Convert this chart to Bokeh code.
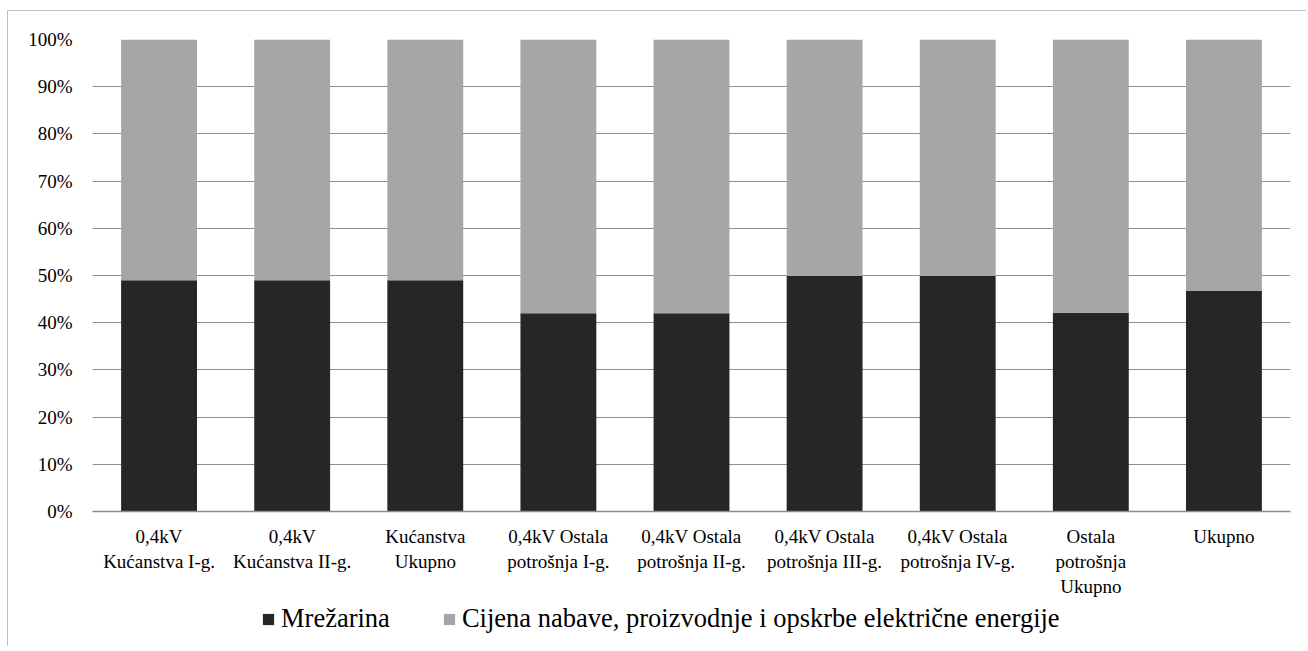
from bokeh.plotting import figure
from bokeh.layouts import column
from bokeh.models import ColumnDataSource, Legend, LegendItem, NumeralTickFormatter, FixedTicker, Range1d, FactorRange
from bokeh.embed import file_html
from bokeh.resources import INLINE

categories = [
    "0,4kV\nKućanstva I-g.",
    "0,4kV\nKućanstva II-g.",
    "Kućanstva\nUkupno",
    "0,4kV Ostala\npotrošnja I-g.",
    "0,4kV Ostala\npotrošnja II-g.",
    "0,4kV Ostala\npotrošnja III-g.",
    "0,4kV Ostala\npotrošnja IV-g.",
    "Ostala\npotrošnja\nUkupno",
    "Ukupno",
]
mrezarina = [0.49, 0.49, 0.49, 0.42, 0.42, 0.499, 0.499, 0.421, 0.467]
cijena = [0.51, 0.51, 0.51, 0.58, 0.58, 0.501, 0.501, 0.579, 0.533]
series_names = ["Mrežarina", "Cijena nabave, proizvodnje i opskrbe električne energije"]
series_colors = ["#262626", "#a6a6a6"]
y_ticks = [0, 0.1, 0.2, 0.3, 0.4, 0.5, 0.6, 0.7, 0.8, 0.9, 1.0]

FONT = "'Liberation Serif', 'Times New Roman', serif"

source = ColumnDataSource(dict(cat=categories, m=mrezarina, c=cijena))

# main chart
p = figure(
    x_range=FactorRange(*categories, range_padding=0),
    y_range=Range1d(0, 1),
    width=1298, height=590,
    output_backend="svg", toolbar_location=None,
    min_border_left=84, min_border_top=28, min_border_right=16, min_border_bottom=90,
)
p.outline_line_color = None
p.background_fill_color = "white"
p.border_fill_color = "white"

renderers = p.vbar_stack(["m", "c"], x="cat", width=0.57, source=source,
                         color=series_colors, line_color=None)

p.yaxis.ticker = FixedTicker(ticks=y_ticks)
p.yaxis.formatter = NumeralTickFormatter(format="0%")
p.yaxis.axis_line_color = None
p.yaxis.major_tick_line_color = None
p.yaxis.minor_tick_line_color = None
p.yaxis.major_tick_out = 0
p.yaxis.major_label_standoff = 20
p.yaxis.major_label_text_font = FONT
p.yaxis.major_label_text_font_size = "19px"
p.yaxis.major_label_text_color = "#000000"

p.xaxis.axis_line_color = "#8c8c8c"
p.xaxis.axis_line_width = 1.5
p.xaxis.major_tick_line_color = None
p.xaxis.major_tick_out = 0
p.xaxis.major_label_standoff = 14
p.xaxis.major_label_text_font = FONT
p.xaxis.major_label_text_font_size = "19px"
p.xaxis.major_label_text_color = "#000000"
p.xaxis.major_label_orientation = "horizontal"

p.xgrid.grid_line_color = None
p.ygrid.grid_line_color = "#8f8f8f"
p.ygrid.grid_line_width = 1

# legend strip below the chart
p2 = figure(
    x_range=FactorRange(*categories, range_padding=0),
    y_range=Range1d(10, 11),
    width=1298, height=45,
    output_backend="svg", toolbar_location=None,
    x_axis_location=None, y_axis_location=None,
    min_border_left=0, min_border_top=0, min_border_right=0, min_border_bottom=0,
)
p2.outline_line_color = None
p2.grid.grid_line_color = None
leg_renderers = p2.vbar_stack(["m", "c"], x="cat", width=0.57, source=source,
                              color=series_colors, line_color=None)

legend = Legend(
    items=[LegendItem(label=series_names[i], renderers=[leg_renderers[i]]) for i in range(2)],
    orientation="horizontal",
    location=(169, 12),
    padding=0, margin=0, spacing=52,
    glyph_width=14, glyph_height=14, label_standoff=6,
    label_text_font=FONT, label_text_font_size="26.5px", label_text_color="#000000",
    border_line_color=None, background_fill_alpha=0,
)
p2.add_layout(legend)

layout = column(p, p2, spacing=0)
layout.stylesheets = [":host { margin-left: 7px; margin-top: 10px; border-left: 1px solid #bfbfbf; border-top: 1px solid #bfbfbf; }"]

open("out.html", "w").write(file_html(layout, INLINE))
